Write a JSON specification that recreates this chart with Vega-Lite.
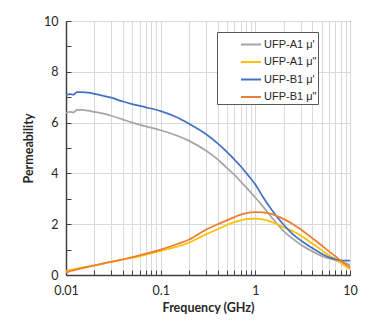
{
  "$schema": "https://vega.github.io/schema/vega-lite/v6.json",
  "width": 284,
  "height": 254,
  "autosize": {"type": "none"},
  "padding": {"left": 66, "top": 21, "right": 16, "bottom": 52},
  "background": "white",
  "config": {
    "font": "Lato",
    "view": {"stroke": "#404040", "strokeWidth": 1},
    "axis": {
      "labelFont": "Lato",
      "labelFontSize": 12.5,
      "labelColor": "#262626",
      "titleFont": "Lato",
      "titleFontSize": 12.5,
      "titleFontWeight": "bold",
      "titleColor": "#262626",
      "domainColor": "#404040",
      "domainWidth": 1.5,
      "tickColor": "#404040",
      "tickWidth": 1,
      "gridWidth": 1
    }
  },
  "datasets": {
    "curves": [
      {"f": 0.01, "v": 6.38, "s": "UFP-A1 μ'"},
      {"f": 0.011, "v": 6.42, "s": "UFP-A1 μ'"},
      {"f": 0.012, "v": 6.4, "s": "UFP-A1 μ'"},
      {"f": 0.013, "v": 6.5, "s": "UFP-A1 μ'"},
      {"f": 0.015, "v": 6.5, "s": "UFP-A1 μ'"},
      {"f": 0.017, "v": 6.47, "s": "UFP-A1 μ'"},
      {"f": 0.02, "v": 6.42, "s": "UFP-A1 μ'"},
      {"f": 0.025, "v": 6.35, "s": "UFP-A1 μ'"},
      {"f": 0.03, "v": 6.27, "s": "UFP-A1 μ'"},
      {"f": 0.04, "v": 6.12, "s": "UFP-A1 μ'"},
      {"f": 0.05, "v": 6.0, "s": "UFP-A1 μ'"},
      {"f": 0.07, "v": 5.85, "s": "UFP-A1 μ'"},
      {"f": 0.1, "v": 5.7, "s": "UFP-A1 μ'"},
      {"f": 0.15, "v": 5.48, "s": "UFP-A1 μ'"},
      {"f": 0.2, "v": 5.28, "s": "UFP-A1 μ'"},
      {"f": 0.3, "v": 4.9, "s": "UFP-A1 μ'"},
      {"f": 0.4, "v": 4.55, "s": "UFP-A1 μ'"},
      {"f": 0.5, "v": 4.22, "s": "UFP-A1 μ'"},
      {"f": 0.6, "v": 3.95, "s": "UFP-A1 μ'"},
      {"f": 0.7, "v": 3.68, "s": "UFP-A1 μ'"},
      {"f": 0.8, "v": 3.45, "s": "UFP-A1 μ'"},
      {"f": 1, "v": 3.05, "s": "UFP-A1 μ'"},
      {"f": 1.2, "v": 2.7, "s": "UFP-A1 μ'"},
      {"f": 1.5, "v": 2.25, "s": "UFP-A1 μ'"},
      {"f": 2, "v": 1.72, "s": "UFP-A1 μ'"},
      {"f": 2.5, "v": 1.42, "s": "UFP-A1 μ'"},
      {"f": 3, "v": 1.2, "s": "UFP-A1 μ'"},
      {"f": 4, "v": 0.93, "s": "UFP-A1 μ'"},
      {"f": 5, "v": 0.75, "s": "UFP-A1 μ'"},
      {"f": 6, "v": 0.65, "s": "UFP-A1 μ'"},
      {"f": 7, "v": 0.58, "s": "UFP-A1 μ'"},
      {"f": 8, "v": 0.52, "s": "UFP-A1 μ'"},
      {"f": 9, "v": 0.46, "s": "UFP-A1 μ'"},
      {"f": 10, "v": 0.4, "s": "UFP-A1 μ'"},

      {"f": 0.01, "v": 0.15, "s": "UFP-A1 μ\""},
      {"f": 0.011, "v": 0.2, "s": "UFP-A1 μ\""},
      {"f": 0.012, "v": 0.22, "s": "UFP-A1 μ\""},
      {"f": 0.013, "v": 0.25, "s": "UFP-A1 μ\""},
      {"f": 0.015, "v": 0.3, "s": "UFP-A1 μ\""},
      {"f": 0.017, "v": 0.33, "s": "UFP-A1 μ\""},
      {"f": 0.02, "v": 0.38, "s": "UFP-A1 μ\""},
      {"f": 0.025, "v": 0.45, "s": "UFP-A1 μ\""},
      {"f": 0.03, "v": 0.52, "s": "UFP-A1 μ\""},
      {"f": 0.04, "v": 0.6, "s": "UFP-A1 μ\""},
      {"f": 0.05, "v": 0.67, "s": "UFP-A1 μ\""},
      {"f": 0.07, "v": 0.8, "s": "UFP-A1 μ\""},
      {"f": 0.1, "v": 0.95, "s": "UFP-A1 μ\""},
      {"f": 0.15, "v": 1.12, "s": "UFP-A1 μ\""},
      {"f": 0.2, "v": 1.28, "s": "UFP-A1 μ\""},
      {"f": 0.3, "v": 1.6, "s": "UFP-A1 μ\""},
      {"f": 0.4, "v": 1.8, "s": "UFP-A1 μ\""},
      {"f": 0.5, "v": 1.97, "s": "UFP-A1 μ\""},
      {"f": 0.6, "v": 2.08, "s": "UFP-A1 μ\""},
      {"f": 0.7, "v": 2.15, "s": "UFP-A1 μ\""},
      {"f": 0.8, "v": 2.2, "s": "UFP-A1 μ\""},
      {"f": 1, "v": 2.22, "s": "UFP-A1 μ\""},
      {"f": 1.2, "v": 2.19, "s": "UFP-A1 μ\""},
      {"f": 1.5, "v": 2.08, "s": "UFP-A1 μ\""},
      {"f": 2, "v": 1.88, "s": "UFP-A1 μ\""},
      {"f": 2.5, "v": 1.72, "s": "UFP-A1 μ\""},
      {"f": 3, "v": 1.56, "s": "UFP-A1 μ\""},
      {"f": 4, "v": 1.24, "s": "UFP-A1 μ\""},
      {"f": 5, "v": 0.98, "s": "UFP-A1 μ\""},
      {"f": 6, "v": 0.77, "s": "UFP-A1 μ\""},
      {"f": 7, "v": 0.62, "s": "UFP-A1 μ\""},
      {"f": 8, "v": 0.47, "s": "UFP-A1 μ\""},
      {"f": 9, "v": 0.34, "s": "UFP-A1 μ\""},
      {"f": 10, "v": 0.22, "s": "UFP-A1 μ\""},

      {"f": 0.01, "v": 7.08, "s": "UFP-B1 μ'"},
      {"f": 0.011, "v": 7.12, "s": "UFP-B1 μ'"},
      {"f": 0.012, "v": 7.1, "s": "UFP-B1 μ'"},
      {"f": 0.013, "v": 7.2, "s": "UFP-B1 μ'"},
      {"f": 0.015, "v": 7.2, "s": "UFP-B1 μ'"},
      {"f": 0.017, "v": 7.18, "s": "UFP-B1 μ'"},
      {"f": 0.02, "v": 7.13, "s": "UFP-B1 μ'"},
      {"f": 0.025, "v": 7.05, "s": "UFP-B1 μ'"},
      {"f": 0.03, "v": 6.98, "s": "UFP-B1 μ'"},
      {"f": 0.04, "v": 6.83, "s": "UFP-B1 μ'"},
      {"f": 0.05, "v": 6.73, "s": "UFP-B1 μ'"},
      {"f": 0.07, "v": 6.6, "s": "UFP-B1 μ'"},
      {"f": 0.1, "v": 6.45, "s": "UFP-B1 μ'"},
      {"f": 0.15, "v": 6.2, "s": "UFP-B1 μ'"},
      {"f": 0.2, "v": 5.95, "s": "UFP-B1 μ'"},
      {"f": 0.3, "v": 5.55, "s": "UFP-B1 μ'"},
      {"f": 0.4, "v": 5.18, "s": "UFP-B1 μ'"},
      {"f": 0.5, "v": 4.85, "s": "UFP-B1 μ'"},
      {"f": 0.6, "v": 4.55, "s": "UFP-B1 μ'"},
      {"f": 0.7, "v": 4.28, "s": "UFP-B1 μ'"},
      {"f": 0.8, "v": 4.02, "s": "UFP-B1 μ'"},
      {"f": 1, "v": 3.56, "s": "UFP-B1 μ'"},
      {"f": 1.2, "v": 3.08, "s": "UFP-B1 μ'"},
      {"f": 1.5, "v": 2.55, "s": "UFP-B1 μ'"},
      {"f": 2, "v": 1.97, "s": "UFP-B1 μ'"},
      {"f": 2.5, "v": 1.6, "s": "UFP-B1 μ'"},
      {"f": 3, "v": 1.37, "s": "UFP-B1 μ'"},
      {"f": 4, "v": 1.06, "s": "UFP-B1 μ'"},
      {"f": 5, "v": 0.84, "s": "UFP-B1 μ'"},
      {"f": 6, "v": 0.7, "s": "UFP-B1 μ'"},
      {"f": 7, "v": 0.62, "s": "UFP-B1 μ'"},
      {"f": 8, "v": 0.58, "s": "UFP-B1 μ'"},
      {"f": 9, "v": 0.57, "s": "UFP-B1 μ'"},
      {"f": 10, "v": 0.57, "s": "UFP-B1 μ'"},

      {"f": 0.01, "v": 0.08, "s": "UFP-B1 μ\""},
      {"f": 0.011, "v": 0.15, "s": "UFP-B1 μ\""},
      {"f": 0.012, "v": 0.18, "s": "UFP-B1 μ\""},
      {"f": 0.013, "v": 0.22, "s": "UFP-B1 μ\""},
      {"f": 0.015, "v": 0.27, "s": "UFP-B1 μ\""},
      {"f": 0.017, "v": 0.32, "s": "UFP-B1 μ\""},
      {"f": 0.02, "v": 0.38, "s": "UFP-B1 μ\""},
      {"f": 0.025, "v": 0.46, "s": "UFP-B1 μ\""},
      {"f": 0.03, "v": 0.52, "s": "UFP-B1 μ\""},
      {"f": 0.04, "v": 0.62, "s": "UFP-B1 μ\""},
      {"f": 0.05, "v": 0.7, "s": "UFP-B1 μ\""},
      {"f": 0.07, "v": 0.84, "s": "UFP-B1 μ\""},
      {"f": 0.1, "v": 1.0, "s": "UFP-B1 μ\""},
      {"f": 0.15, "v": 1.22, "s": "UFP-B1 μ\""},
      {"f": 0.2, "v": 1.4, "s": "UFP-B1 μ\""},
      {"f": 0.3, "v": 1.78, "s": "UFP-B1 μ\""},
      {"f": 0.4, "v": 2.0, "s": "UFP-B1 μ\""},
      {"f": 0.5, "v": 2.15, "s": "UFP-B1 μ\""},
      {"f": 0.6, "v": 2.28, "s": "UFP-B1 μ\""},
      {"f": 0.7, "v": 2.38, "s": "UFP-B1 μ\""},
      {"f": 0.8, "v": 2.44, "s": "UFP-B1 μ\""},
      {"f": 1, "v": 2.48, "s": "UFP-B1 μ\""},
      {"f": 1.2, "v": 2.47, "s": "UFP-B1 μ\""},
      {"f": 1.5, "v": 2.4, "s": "UFP-B1 μ\""},
      {"f": 2, "v": 2.2, "s": "UFP-B1 μ\""},
      {"f": 2.5, "v": 2.0, "s": "UFP-B1 μ\""},
      {"f": 3, "v": 1.8, "s": "UFP-B1 μ\""},
      {"f": 4, "v": 1.45, "s": "UFP-B1 μ\""},
      {"f": 5, "v": 1.17, "s": "UFP-B1 μ\""},
      {"f": 6, "v": 0.93, "s": "UFP-B1 μ\""},
      {"f": 7, "v": 0.74, "s": "UFP-B1 μ\""},
      {"f": 8, "v": 0.56, "s": "UFP-B1 μ\""},
      {"f": 9, "v": 0.42, "s": "UFP-B1 μ\""},
      {"f": 10, "v": 0.3, "s": "UFP-B1 μ\""}
    ]
  },
  "data": {"name": "curves"},
  "mark": {"type": "line", "strokeWidth": 1.75, "interpolate": "monotone", "clip": true},
  "encoding": {
    "x": {
      "field": "f",
      "type": "quantitative",
      "scale": {"type": "log", "domain": [0.01, 10], "nice": false},
      "axis": {
        "title": "Frequency (GHz)",
        "values": [0.01, 0.02, 0.03, 0.04, 0.05, 0.06, 0.07, 0.08, 0.09, 0.1, 0.2, 0.3, 0.4, 0.5, 0.6, 0.7, 0.8, 0.9, 1, 2, 3, 4, 5, 6, 7, 8, 9, 10],
        "labelExpr": "(datum.value == 0.01 || datum.value == 0.1 || datum.value == 1 || datum.value == 10) ? format(datum.value, '~g') : ''",
        "grid": true,
        "gridColor": "#d9d9d9",
        "tickSize": -5,
        "labelPadding": 14,
        "labelFlush": false,
        "labelOverlap": false,
        "titlePadding": 5
      }
    },
    "y": {
      "field": "v",
      "type": "quantitative",
      "scale": {"domain": [0, 10], "nice": false},
      "axis": {
        "title": "Permeability",
        "values": [0, 1, 2, 3, 4, 5, 6, 7, 8, 9, 10],
        "labelExpr": "datum.value % 2 === 0 ? datum.label : ''",
        "grid": true,
        "gridColor": {"condition": {"test": "datum.value % 2 === 0", "value": "#d9d9d9"}, "value": "transparent"},
        "tickSize": -5,
        "labelPadding": 13,
        "labelFlush": false,
        "labelOverlap": false,
        "titlePadding": 8
      }
    },
    "color": {
      "field": "s",
      "type": "nominal",
      "scale": {
        "domain": ["UFP-A1 μ'", "UFP-A1 μ\"", "UFP-B1 μ'", "UFP-B1 μ\""],
        "range": ["#A5A5A5", "#FFC000", "#4472C4", "#ED7D31"]
      },
      "legend": {
        "title": null,
        "orient": "none",
        "legendX": 151,
        "legendY": 11,
        "fillColor": "white",
        "strokeColor": "#595959",
        "padding": 1.5,
        "rowPadding": 1.5,
        "symbolType": "stroke",
        "symbolSize": 400,
        "symbolStrokeWidth": 2,
        "symbolOffset": 21.5,
        "labelOffset": 2,
        "labelFont": "Liberation Sans",
        "labelFontSize": 11,
        "labelColor": "#262626",
        "labelExpr": "datum.label + '\u00a0\u00a0\u00a0\u00a0\u00a0\u00a0\u00a0'"
      }
    }
  }
}
